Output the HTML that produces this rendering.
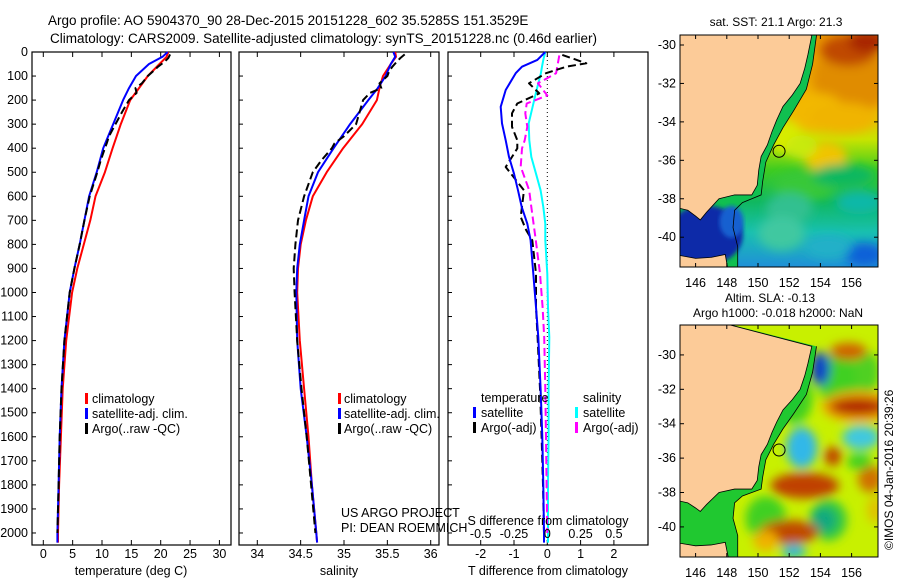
<!DOCTYPE html>
<html><head><meta charset="utf-8"><style>
html,body{margin:0;padding:0;background:#fff;}
svg{display:block;font-family:"Liberation Sans",sans-serif;}
text{fill:#000;}
</style></head><body>
<svg id="fig" width="900" height="580" viewBox="0 0 900 580" xmlns="http://www.w3.org/2000/svg">
<defs>
<filter id="blur4" x="-50%" y="-50%" width="200%" height="200%"><feGaussianBlur stdDeviation="5"/></filter>
<filter id="blur2"><feGaussianBlur stdDeviation="2"/></filter>
<clipPath id="clipSST"><rect x="680" y="35" width="198" height="232"/></clipPath>
<clipPath id="clipSLA"><rect x="680" y="325" width="198" height="232"/></clipPath>
<linearGradient id="sstGrad" x1="0" y1="0" x2="0" y2="1">
<stop offset="0" stop-color="#e89400"/>
<stop offset="0.3" stop-color="#f2b400"/>
<stop offset="0.45" stop-color="#c8e400"/>
<stop offset="0.58" stop-color="#40cc20"/>
<stop offset="0.72" stop-color="#10b860"/>
<stop offset="0.85" stop-color="#18c0b0"/>
<stop offset="1" stop-color="#2090d8"/>
</linearGradient>
</defs>
<text x="48" y="25" font-size="13.5">Argo profile: AO 5904370_90 28-Dec-2015 20151228_602 35.5285S 151.3529E</text>
<text x="50" y="43" font-size="13.5">Climatology: CARS2009. Satellite-adjusted climatology: synTS_20151228.nc (0.46d earlier)</text>
<g id="panels"></g>
<g id="maps"></g>
<text transform="translate(893,550) rotate(-90)" font-size="12">©IMOS 04-Jan-2016 20:39:26</text>
</svg>
<script>
// ---------- profile data ----------
const tDepth = [0,20,50,100,150,200,300,400,500,600,700,800,900,1000,1200,1400,1600,1800,2000,2040];
const tClim = [21.3,21.0,19.8,17.8,16.3,14.8,13.2,11.8,10.5,8.9,8.0,6.9,5.8,4.9,3.9,3.3,3.0,2.7,2.5,2.5];
const tSat = [21.2,20.3,18.0,15.8,14.6,13.6,11.9,10.2,9.1,7.8,7.0,6.2,5.3,4.5,3.6,3.1,2.8,2.6,2.4,2.4];
const aDepth = [10,25,40,60,80,100,130,150,170,200,250,300,350,380,400,450,500,600,700,800,900,1000,1200,1400,1600,1800,2000];
const tArgo = [21.6,21.3,20.7,19.6,18.7,17.8,16.8,15.7,15.9,14.6,13.4,12.3,11.2,10.8,10.5,9.8,9.2,7.9,7.0,6.2,5.3,4.5,3.6,3.1,2.8,2.6,2.4];
const sClim = [35.59,35.60,35.54,35.45,35.41,35.38,35.21,34.99,34.80,34.64,34.56,34.50,34.47,34.46,34.49,34.54,34.59,34.63,34.68,34.69];
const sSat = [35.57,35.59,35.54,35.48,35.39,35.28,35.07,34.88,34.70,34.59,34.54,34.49,34.46,34.45,34.46,34.50,34.57,34.63,34.68,34.69];
const sArgo = [35.70,35.65,35.61,35.56,35.52,35.50,35.41,35.43,35.30,35.22,35.18,35.14,35.00,34.89,34.86,34.74,34.64,34.54,34.47,34.44,34.42,34.43,34.46,34.51,34.57,34.62,34.67];
const dDepth = [0,33,61,88,158,228,297,367,436,506,575,644,714,783,922,1061,1186,1400,1600,1800,2000,2040];
const dTSat = [-0.06,-0.3,-0.76,-0.95,-1.25,-1.4,-1.36,-1.25,-1.15,-1.0,-0.88,-0.77,-0.6,-0.5,-0.42,-0.34,-0.27,-0.2,-0.15,-0.12,-0.1,-0.1];
const dSSat = [-0.015,-0.03,-0.04,-0.048,-0.08,-0.11,-0.14,-0.135,-0.12,-0.085,-0.05,-0.03,-0.015,-0.015,0,0.005,0.015,0.01,0.01,0.005,0.005,0.005];
const adDepth = [12,47,61,88,130,172,214,255,311,367,401,478,575,686,742,783,922,1061,1186,1400,1600,1800,2000];
const dTArgo = [0.45,1.17,0.57,-0.04,-0.55,-0.24,-0.9,-1.06,-1.06,-0.9,-0.9,-1.25,-0.7,-0.8,-0.63,-0.45,-0.34,-0.34,-0.29,-0.22,-0.17,-0.13,-0.1];
const asDepth = [14,88,130,181,214,255,311,367,401,477,575,644,783,922,1061,1186,1400,1600,1800,2000];
const dSArgo = [0.09,0.066,-0.07,0,-0.155,-0.165,-0.15,-0.17,-0.19,-0.2,-0.136,-0.12,-0.086,-0.055,-0.035,-0.023,-0.015,-0.01,-0.005,0];
const depthTicks = [0,100,200,300,400,500,600,700,800,900,1000,1100,1200,1300,1400,1500,1600,1700,1800,1900,2000];
const tTicks = [0,5,10,15,20,25,30];
const sTicks = [34,34.5,35,35.5,36];
const sTickLabels = ["34","34.5","35","35.5","36"];
const dTTicks = [-2,-1,0,1,2];
const dSTicks = [-0.5,-0.25,0,0.25,0.5];
const dSTickLabels = ["-0.5","-0.25","0","0.25","0.5"];

const NS = "http://www.w3.org/2000/svg";
function mk(tag, attrs, parent){const e=document.createElementNS(NS,tag);for(const k in attrs)e.setAttribute(k,attrs[k]);parent.appendChild(e);return e;}
const TOP=52, BOT=545, DMAX=2050;
const yD = d => TOP + d/DMAX*(BOT-TOP);
const xT = v => 43.3 + v*5.87;
const xS = v => 257.3 + (v-34)*86.7;
const xDT = v => 547.3 + v*33.3;
const xDS = v => 547.3 + v*133.2;
const G = document.getElementById('panels');

function box(x0,x1,name){
  const r=mk('rect',{x:x0,y:TOP,width:x1-x0,height:BOT-TOP,fill:'none',stroke:'#000','stroke-width':1.2},G);
  
  
  for(const d of depthTicks){
    const t=mk('line',{x1:x0,x2:x0+4,y1:yD(d),y2:yD(d),stroke:'#000'},G);
    
    
  }
}
function xticks(vals,labels,fx,ylab,name,top){
  vals.forEach((v,i)=>{
    const x=fx(v);
    const t1=mk('line',{x1:x,x2:x,y1:BOT,y2:BOT-5,stroke:'#000'},G);
    
    
    if(top){const t2=mk('line',{x1:x,x2:x,y1:TOP,y2:TOP+5,stroke:'#000'},G);
      
      }
    const tx=mk('text',{x:x,y:ylab,'font-size':12.5,'text-anchor':'middle'},G);
    tx.textContent=labels[i];
    
    
  });
}
function line(depths,vals,fx,color,dash,name,w){
  let d='';depths.forEach((dd,i)=>{d+=(i?'L':'M')+fx(vals[i]).toFixed(1)+','+yD(dd).toFixed(1);});
  const p=mk('path',{d:d,fill:'none',stroke:color,'stroke-width':w||2,'stroke-dasharray':dash||'none','stroke-linejoin':'round'},G);
  
  
}
function txt(x,y,s,name,anchor,size){
  const t=mk('text',{x:x,y:y,'font-size':size||12.5,'text-anchor':anchor||'start'},G);t.textContent=s;
  
  
}
function legmark(x,y,color,name){
  const r=mk('rect',{x:x,y:y-10,width:3,height:11,fill:color},G);
  
  
}

// Panel 1 temperature
box(32,231,'temperature-panel');
depthTicks.forEach(d=>txt(28,yD(d)+4,String(d),'depth-tick-label','end',12.5));
xticks(tTicks,tTicks.map(String),xT,558,'temperature',true);
line(tDepth,tClim,xT,'#ff0000',null,'temperature-climatology-line');
line(tDepth,tSat,xT,'#0000ff',null,'temperature-satellite-line');
line(aDepth,tArgo,xT,'#000000','8,4','temperature-argo-line');
txt(131,575,'temperature (deg C)','x-axis-title-temperature','middle');
legmark(85,403,'#ff0000','legend-climatology-marker');txt(92,403,'climatology','legend-climatology');
legmark(85,418,'#0000ff','legend-satellite-marker');txt(92,418,'satellite-adj. clim.','legend-satellite');
legmark(85,433,'#000000','legend-argo-marker');txt(92,433,'Argo(..raw -QC)','legend-argo');

// Panel 2 salinity
box(239,439,'salinity-panel');
xticks(sTicks,sTickLabels,xS,558,'salinity',true);
line(tDepth,sClim,xS,'#ff0000',null,'salinity-climatology-line');
line(tDepth,sSat,xS,'#0000ff',null,'salinity-satellite-line');
line(aDepth,sArgo,xS,'#000000','8,4','salinity-argo-line');
txt(339,575,'salinity','x-axis-title-salinity','middle');
legmark(338,403,'#ff0000','legend2-climatology-marker');txt(344,403,'climatology','legend2-climatology');
legmark(338,418,'#0000ff','legend2-satellite-marker');txt(344,418,'satellite-adj. clim.','legend2-satellite');
legmark(338,433,'#000000','legend2-argo-marker');txt(344,433,'Argo(..raw -QC)','legend2-argo');
txt(341,517,'US ARGO PROJECT','us-argo-project-label');
txt(341,532,'PI: DEAN ROEMMICH','pi-label');

// Panel 3 differences
box(448,648,'difference-panel');
xticks(dTTicks,dTTicks.map(String),xDT,558,'t-diff',true);
const zl=mk('line',{x1:xDT(0),x2:xDT(0),y1:TOP,y2:BOT,stroke:'#000','stroke-dasharray':'1,3'},G);


line(dDepth,dSSat,xDS,'#00ffff',null,'salinity-diff-satellite-line');
line(asDepth,dSArgo,xDS,'#ff00ff','8,4','salinity-diff-argo-line');
line(adDepth,dTArgo,xDT,'#000000','8,4','temperature-diff-argo-line');
line(dDepth,dTSat,xDT,'#0000ff',null,'temperature-diff-satellite-line');
dSTicks.forEach((v,i)=>txt(xDS(v),538,dSTickLabels[i],'s-diff-tick-label','middle'));
txt(548,525,'S difference from climatology','s-diff-axis-title','middle');
txt(548,575,'T difference from climatology','t-diff-axis-title','middle');
txt(481,402,'temperature','legend3-temperature-header');
txt(583,402,'salinity','legend3-salinity-header');
legmark(473,417,'#0000ff','legend3-t-satellite-marker');txt(481,417,'satellite','legend3-t-satellite');
legmark(473,432,'#000000','legend3-t-argo-marker');txt(481,432,'Argo(-adj)','legend3-t-argo');
legmark(575,417,'#00ffff','legend3-s-satellite-marker');txt(583,417,'satellite','legend3-s-satellite');
legmark(575,432,'#ff00ff','legend3-s-argo-marker');txt(583,432,'Argo(-adj)','legend3-s-argo');

// ---------- maps ----------
const M = document.getElementById('maps');
const lonTicks = [146,148,150,152,154,156];
const latTicks = [-30,-32,-34,-36,-38,-40];
const coastLon = [153.45,153.2,153.0,152.7,152.2,151.6,151.2,150.9,150.6,150.2,150.05,149.95,149.6,148.5,147.5,146.7,146.3,146.0,145.5,145.0];
const coastLat = [-29.5,-30.5,-31.2,-32.0,-32.6,-33.2,-33.9,-34.5,-35.2,-35.8,-36.5,-37.3,-37.8,-37.8,-38.0,-38.7,-39.1,-38.9,-38.6,-38.5];
const tasLon = [145,146,147,147.9,148.1,145];
const tasLat = [-40.95,-41.1,-41.05,-40.9,-41.8,-41.8];
const isoLon = [153.75,153.5,153.1,152.3,151.6,151.0,150.5,150.3,150.2,149.0,148.5,148.4,148.7,148.7];
const isoLat = [-29.5,-31,-32.3,-33.4,-34.3,-35.2,-36.1,-37.1,-37.8,-38.2,-38.6,-39.5,-40.5,-41.8];
// SST blobs: lon, lat, rx(deg), ry(deg), color
const sstLon = [156,155.8,157,153.8,155.5,154.3,151.8,153,155.5,152,156.5,151.5,156.8,154.5,152.8];
const sstLat = [-31.8,-30.3,-29.8,-33.5,-33.8,-35.8,-34.8,-37.3,-36.8,-38.5,-38.2,-39.8,-40.9,-40.5,-35.3];
const sstRx = [2.5,1.8,1.2,1.8,2.2,1.4,1.0,2.0,2.0,1.5,1.5,1.5,1.3,1.5,1.0];
const sstRy = [1.8,0.8,0.6,1.0,0.8,0.8,0.8,0.8,0.6,0.8,0.6,0.9,0.6,0.6,0.6];
const sstCol = ['#e08c00','#c04800','#a82800','#f2b800','#f0b400','#f0c400','#d8ec00','#38c838','#10b860','#30c090','#10b8a8','#40c8a0','#1060d8','#20b0c8','#c8ea10'];
// SLA blobs
const slaLon = [152.3,155.2,150.5,154.5,157,154,156.5,156.4,155.8,152.8,156.6,154.8,153,157.2,154.2,152,152.3,150.5,157.5,156.5];
const slaLat = [-32.5,-31.5,-39.5,-39.6,-31,-30.8,-33,-33,-29.8,-35.4,-34.8,-35.9,-37.6,-37.2,-39.6,-40.3,-41.4,-40.8,-39,-36.2];
const slaRx = [1.2,1.3,1.3,1.2,0.8,0.6,2.4,1.8,1.2,1.0,1.2,0.55,2.2,0.8,0.8,1.9,0.8,0.8,0.5,0.8];
const slaRy = [1.5,1.8,1.3,1.2,1.2,1.0,0.9,0.5,0.5,1.2,0.7,0.55,0.75,0.8,0.7,0.7,0.4,0.6,0.8,0.5];
const slaCol = ['#40d020','#40d020','#40d020','#30c840','#50d020','#1040c8','#f0a000','#b02000','#d06000','#30b8e8','#40c8e0','#c04000','#c04000','#d07000','#10a880','#c04800','#20b8d8','#f0b000','#e0c000','#40d020'];

function drawMap(y0,latTop,latBot,clip,title,bg,bLon,bLat,bRx,bRy,bCol,name){
  const fx = l => 680 + (l-145)*15.6;
  const fy = a => y0 + (latTop-a)/(latTop-latBot)*232;
  const g=mk('g',{'clip-path':'url(#'+clip+')'},M);
  
  
  mk('rect',{x:680,y:y0,width:198,height:232,fill:bg},g);
  const bg2=mk('g',{filter:'url(#blur4)'},g);
  bLon.forEach((l,i)=>{
    const e=mk('ellipse',{cx:fx(l),cy:fy(bLat[i]),rx:bRx[i]*15.6,ry:bRy[i]*(232/(latTop-latBot)),fill:bCol[i]},bg2);
    
    
  });
  let land='M'+fx(144)+','+fy(latTop+1);
  coastLon.forEach((l,i)=>{land+='L'+fx(l)+','+fy(coastLat[i]);});
  land+='L'+fx(144)+','+fy(coastLat[coastLat.length-1])+'Z';
  let sp='M'+fx(144)+','+fy(latTop+1);
  isoLon.forEach((l,i)=>{sp+='L'+fx(l)+','+fy(isoLat[i]);});
  sp+='L'+fx(144)+','+fy(-42)+'Z';
  const sh=mk('path',{d:sp,fill:name==='sst-map'?'#10c050':'#20c830'},g);
  
  
  if(name==='sst-map'){
    const bs=mk('ellipse',{cx:fx(146.6),cy:fy(-39.9),rx:38,ry:30,fill:'#0a2aa8',filter:'url(#blur2)'},g);
    
    
    const bs2=mk('ellipse',{cx:fx(148.3),cy:fy(-39.2),rx:12,ry:16,fill:'#1860d0',filter:'url(#blur2)'},g);
    
    
  }
  const lp=mk('path',{d:land,fill:'#fccb98',stroke:'#000','stroke-width':0.8},g);
  
  
  let tas='M';tasLon.forEach((l,i)=>{tas+=(i?'L':'')+fx(l)+','+fy(tasLat[i]);});
  const tp=mk('path',{d:tas+'Z',fill:'#fccb98',stroke:'#000','stroke-width':0.8},g);
  
  
  let iso='';isoLon.forEach((l,i)=>{iso+=(i?'L':'M')+fx(l)+','+fy(isoLat[i]);});
  const ip=mk('path',{d:iso,fill:'none',stroke:'#000','stroke-width':0.8},g);
  
  
  const c=mk('circle',{cx:fx(151.35),cy:fy(-35.53),r:6,fill:'none',stroke:'#000','stroke-width':1},M);
  
  
  const fr=mk('rect',{x:680,y:y0,width:198,height:232,fill:'none',stroke:'#000'},M);
  
  
  lonTicks.forEach(l=>{
    const t=mk('line',{x1:fx(l),x2:fx(l),y1:y0+232,y2:y0+228,stroke:'#000'},M);
    
    
    const t2=mk('line',{x1:fx(l),x2:fx(l),y1:y0,y2:y0+4,stroke:'#000'},M);
    
    
    const tx=mk('text',{x:fx(l),y:y0+252,'font-size':12.5,'text-anchor':'middle'},M);tx.textContent=String(l);
    
    
  });
  latTicks.forEach(a=>{
    const t=mk('line',{x1:680,x2:684,y1:fy(a),y2:fy(a),stroke:'#000'},M);
    
    
    const t2=mk('line',{x1:878,x2:874,y1:fy(a),y2:fy(a),stroke:'#000'},M);
    
    
    const tx=mk('text',{x:676,y:fy(a)+4,'font-size':12.5,'text-anchor':'end'},M);tx.textContent=String(a);
    
    
  });
  title.forEach((s,i)=>{
    const tx=mk('text',{x:s[1],y:s[2],'font-size':12,'text-anchor':'middle'},M);tx.textContent=s[0];
    
    
  });
}
drawMap(35,-29.48,-41.55,'clipSST',[['sat. SST: 21.1  Argo: 21.3',776,26]],'url(#sstGrad)',sstLon,sstLat,sstRx,sstRy,sstCol,'sst-map');
drawMap(325,-28.26,-41.75,'clipSLA',[['Altim. SLA: -0.13',770,302],['Argo h1000: -0.018 h2000: NaN',778,317]],'#c8f000',slaLon,slaLat,slaRx,slaRy,slaCol,'sla-map');
</script>
</body></html>
